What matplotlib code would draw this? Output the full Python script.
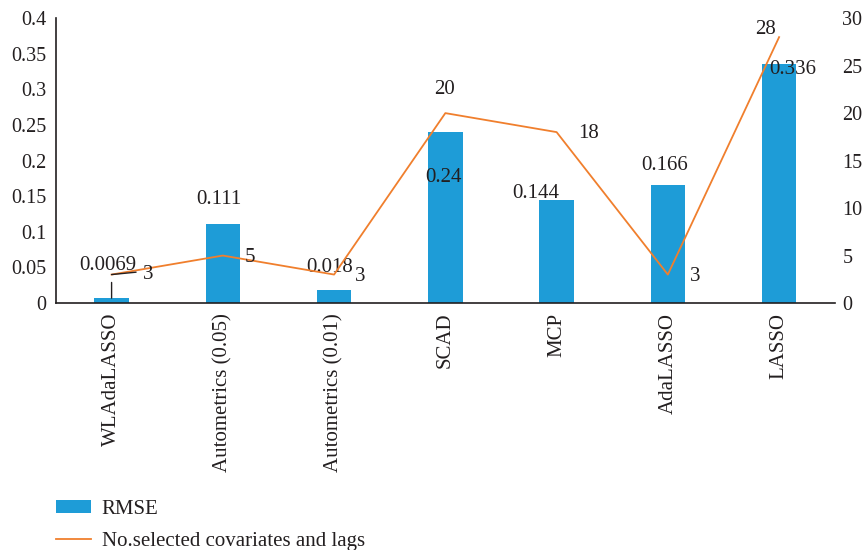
import numpy as np
import matplotlib
matplotlib.use('Agg')
import matplotlib.pyplot as plt

# Data
methods = ['WLAdaLASSO', 'Autometrics (0.05)', 'Autometrics (0.01)',
           'SCAD', 'MCP', 'AdaLASSO', 'LASSO']
rmse = [0.0069, 0.111, 0.018, 0.24, 0.144, 0.166, 0.336]
rmse_labels = ['0.0069', '0.111', '0.018', '0.24', '0.144', '0.166', '0.336']
n_selected = [3, 5, 3, 20, 18, 3, 28]

left_ticks = [0, 0.05, 0.1, 0.15, 0.2, 0.25, 0.3, 0.35, 0.4]
left_ticklabels = ['0', '0.05', '0.1', '0.15', '0.2', '0.25', '0.3', '0.35', '0.4']
right_ticks = [0, 5, 10, 15, 20, 25, 30]

# label placement (pixel offsets, Excel-style scattered labels)
rmse_offsets = [(-4, 33), (-4, 24), (-4, 23), (-2, -45), (-21, 7), (-3, 19), (14, -6)]
count_offsets = [(37, 0), (27, -2), (26, -2), (-1, 24), (32, -1), (27, -2), (-14, 8)]

BAR_COLOR = '#1E9CD7'
LINE_COLOR = '#F07F2D'
TEXT_COLOR = '#231F20'

plt.rcParams['font.family'] = ['Liberation Serif', 'DejaVu Serif']
plt.rcParams['font.size'] = 15

fig = plt.figure(figsize=(8.65, 5.5), dpi=100)
ax = fig.add_axes([0.0647, 0.449, 0.9003, 0.518])
x = np.arange(len(methods))

bars = ax.bar(x, rmse, width=0.31, color=BAR_COLOR, label='RMSE', zorder=2)
ax.set_xlim(-0.5, len(methods) - 0.5)
ax.set_ylim(0, 0.4)
ax.set_yticks(left_ticks)
ax.set_yticklabels(left_ticklabels, color=TEXT_COLOR, fontsize=14.5)
ax.set_xticks(x)
ax.set_xticklabels(methods, rotation=90, color=TEXT_COLOR, fontsize=15)
ax.tick_params(axis='x', length=0, pad=7)
ax.tick_params(axis='y', length=0, pad=7)
for s in ['top', 'right']:
    ax.spines[s].set_visible(False)
ax.spines['left'].set_color(TEXT_COLOR)
ax.spines['bottom'].set_color(TEXT_COLOR)
ax.spines['left'].set_linewidth(1.2)
ax.spines['bottom'].set_linewidth(1.2)

ax2 = ax.twinx()
line, = ax2.plot(x, n_selected, color=LINE_COLOR, linewidth=1.3,
                 label='No.selected covariates and lags', zorder=3)
ax2.set_ylim(0, 30)
ax2.set_yticks(right_ticks)
ax2.set_yticklabels([str(t) for t in right_ticks], color=TEXT_COLOR, fontsize=14.5)
ax2.tick_params(axis='y', length=0, pad=5.5)
for s in ['top', 'right', 'left', 'bottom']:
    ax2.spines[s].set_visible(False)

# RMSE data labels
for xi, v, lab, off in zip(x, rmse, rmse_labels, rmse_offsets):
    ax.annotate(lab, (xi, v), xytext=off, textcoords='offset pixels',
                ha='center', va='center', color=TEXT_COLOR, fontsize=15, zorder=5)

# leader line for the first small bar label
ax.annotate('', xy=(x[0], rmse[0]), xytext=(x[0], rmse[0] + 0.022),
            arrowprops=dict(arrowstyle='-', color=TEXT_COLOR, lw=1.0, shrinkA=0, shrinkB=0))

# counts data labels
for xi, v, off in zip(x, n_selected, count_offsets):
    ax2.annotate(str(v), (xi, v), xytext=off, textcoords='offset pixels',
                 ha='center', va='center', color=TEXT_COLOR, fontsize=15, zorder=5)
ax2.annotate('', xy=(x[0], n_selected[0]), xytext=(x[0] + 0.22, n_selected[0] + 0.25),
             arrowprops=dict(arrowstyle='-', color=TEXT_COLOR, lw=1.0, shrinkA=0, shrinkB=0))

fig.legend([bars, line], ['RMSE', 'No.selected covariates and lags'],
           loc='upper left', bbox_to_anchor=(56 / 865, 1 - 500 / 550), frameon=False,
           fontsize=15, handlelength=1.7, handleheight=0.58, handletextpad=0.5,
           labelspacing=0.62, borderpad=0, borderaxespad=0,
           labelcolor=TEXT_COLOR)

fig.savefig('out.png', dpi=100)
